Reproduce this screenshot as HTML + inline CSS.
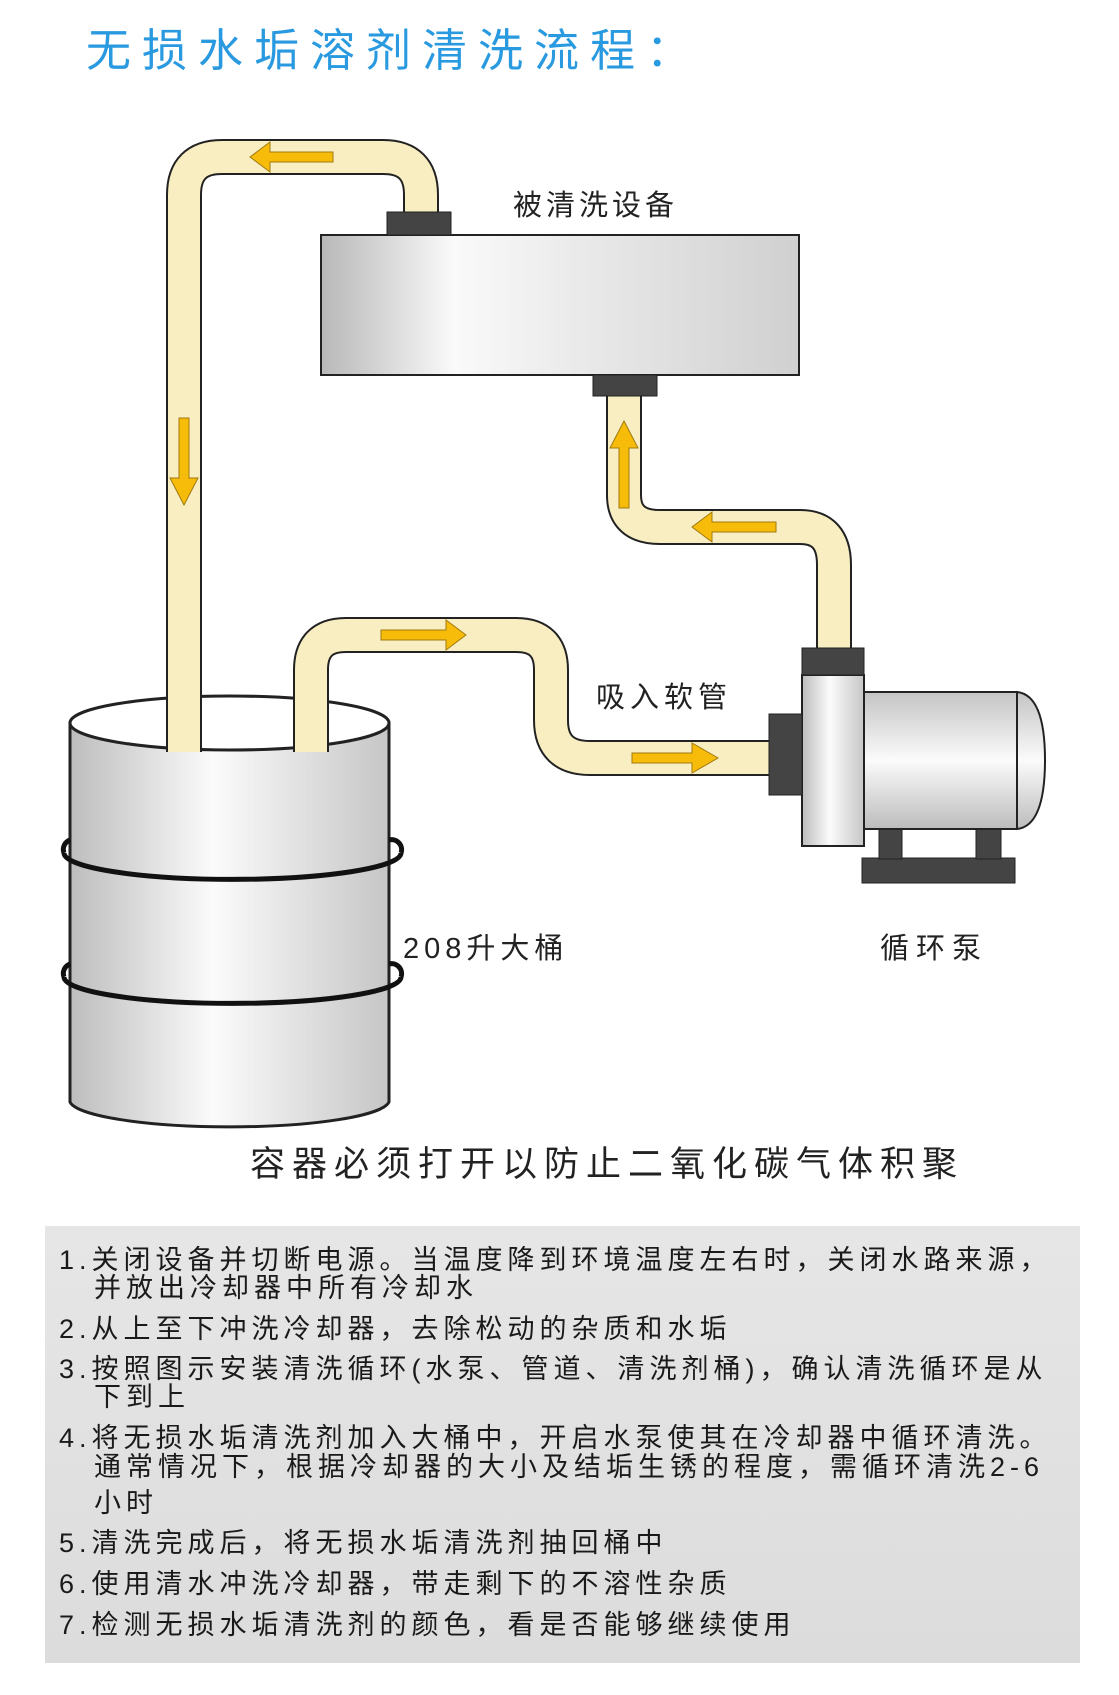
<!DOCTYPE html>
<html><head><meta charset="utf-8"><style>
html,body{margin:0;padding:0;background:#fff;}
body{width:1119px;height:1695px;position:relative;overflow:hidden;font-family:"Liberation Sans","Noto Sans CJK SC",sans-serif;}
.t{position:absolute;white-space:nowrap;color:#222;}
#box{position:absolute;left:45px;top:1226px;width:1035px;height:437px;background:linear-gradient(#e6e6e6,#dcdcdc);}
.l{position:absolute;left:59px;font-size:27px;letter-spacing:5px;color:#1a1a1a;white-space:nowrap;line-height:30px;}
.i{left:94px;}
</style></head><body>
<svg width="1119" height="1695" style="position:absolute;left:0;top:0">
<defs>
<linearGradient id="gb" x1="0" x2="1" y1="0" y2="0">
<stop offset="0" stop-color="#b8b8b8"/><stop offset="0.28" stop-color="#fafafa"/><stop offset="0.5" stop-color="#ececec"/><stop offset="1" stop-color="#d0d0d0"/></linearGradient>
<linearGradient id="gd" x1="0" x2="1" y1="0" y2="0">
<stop offset="0" stop-color="#bdbdbd"/><stop offset="0.45" stop-color="#fbfbfb"/><stop offset="1" stop-color="#c6c6c6"/></linearGradient>
<linearGradient id="gv" x1="0" x2="0" y1="0" y2="1">
<stop offset="0" stop-color="#c4c4c4"/><stop offset="0.5" stop-color="#fbfbfb"/><stop offset="1" stop-color="#bcbcbc"/></linearGradient>
</defs>
<path d="M70 723 L70 1102 A160 27 0 0 0 389 1102 L389 723 Z" fill="url(#gd)" stroke="#222" stroke-width="3"/>
<ellipse cx="229.5" cy="723" rx="159.5" ry="27" fill="#fff" stroke="#222" stroke-width="3"/>
<path d="M64 853 A166 26 0 0 0 401 853" fill="none" stroke="#111" stroke-width="5"/>
<path d="M70 840 A10 10 0 0 0 64 853 M389 840 A10 10 0 0 1 401 853" fill="none" stroke="#111" stroke-width="5"/>
<path d="M64 977 A166 26 0 0 0 401 977" fill="none" stroke="#111" stroke-width="5"/>
<path d="M70 964 A10 10 0 0 0 64 977 M389 964 A10 10 0 0 1 401 977" fill="none" stroke="#111" stroke-width="5"/>
<g fill="none" stroke-linejoin="round">
<path d="M184 752 L184 195 Q184 157 222 157 L383 157 Q421 157 421 195 L421 214" stroke="#222" stroke-width="36"/>
<path d="M624 396 L624 495 Q624 527 660 527 L800 527 Q834 527 834 565 L834 650" stroke="#222" stroke-width="36"/>
<path d="M311 752 L311 670 Q311 635 346 635 L516 635 Q551 635 551 670 L551 720 Q551 758 590 758 L772 758" stroke="#222" stroke-width="36"/>
<path d="M184 752 L184 195 Q184 157 222 157 L383 157 Q421 157 421 195 L421 214" stroke="#f8eec2" stroke-width="32"/>
<path d="M624 396 L624 495 Q624 527 660 527 L800 527 Q834 527 834 565 L834 650" stroke="#f8eec2" stroke-width="32"/>
<path d="M311 752 L311 670 Q311 635 346 635 L516 635 Q551 635 551 670 L551 720 Q551 758 590 758 L772 758" stroke="#f8eec2" stroke-width="32"/>
</g>
<rect x="321" y="235" width="478" height="140" fill="url(#gb)" stroke="#222" stroke-width="2"/>
<rect x="387" y="212" width="64" height="23" fill="#444" stroke="#222"/>
<rect x="593" y="375" width="64" height="21" fill="#444" stroke="#222"/>
<rect x="862" y="858" width="153" height="25" fill="#444" stroke="#222"/>
<rect x="879" y="829" width="23" height="30" fill="#444" stroke="#222"/>
<rect x="976" y="829" width="25" height="30" fill="#444" stroke="#222"/>
<path d="M1017 692 Q1045 695 1045 760 Q1045 826 1017 829 Z" fill="url(#gv)" stroke="#222" stroke-width="2"/>
<rect x="864" y="692" width="153" height="137" fill="url(#gv)" stroke="#222" stroke-width="2"/>
<rect x="802" y="675" width="62" height="171" fill="url(#gd)" stroke="#222" stroke-width="2"/>
<rect x="802" y="648" width="62" height="27" fill="#444" stroke="#222"/>
<rect x="769" y="714" width="33" height="81" fill="#444" stroke="#222"/>
<g fill="#f7bb0a" stroke="#a07a10" stroke-width="1">
<path d="M333 152 L270 152 L270 142 L250 157 L270 172 L270 162 L333 162 Z"/>
<path d="M179 418 L179 478 L170 478 L184 505 L198 478 L189 478 L189 418 Z"/>
<path d="M619 508 L619 448 L610 448 L624 421 L638 448 L629 448 L629 508 Z"/>
<path d="M776 522 L712 522 L712 512 L692 527 L712 542 L712 532 L776 532 Z"/>
<path d="M381 630 L446 630 L446 620 L466 635 L446 650 L446 640 L381 640 Z"/>
<path d="M632 753 L692 753 L692 743 L718 758 L692 773 L692 763 L632 763 Z"/>
</g>
</svg>
<div class="t" style="left:86px;top:14px;font-size:45px;letter-spacing:11px;color:#2a9ae0;">无损水垢溶剂清洗流程：</div>
<div class="t" style="left:513px;top:182px;font-size:29px;letter-spacing:4px;">被清洗设备</div>
<div class="t" style="left:596px;top:674px;font-size:29px;letter-spacing:5px;">吸入软管</div>
<div class="t" style="left:403px;top:925px;font-size:29px;letter-spacing:5px;">208升大桶</div>
<div class="t" style="left:880px;top:925px;font-size:29px;letter-spacing:7px;">循环泵</div>
<div class="t" style="left:250px;top:1136px;font-size:35px;letter-spacing:7px;">容器必须打开以防止二氧化碳气体积聚</div>
<div id="box"></div>
<div class="l" style="top:1245px">1.关闭设备并切断电源。当温度降到环境温度左右时，关闭水路来源，</div>
<div class="l i" style="top:1273px">并放出冷却器中所有冷却水</div>
<div class="l" style="top:1314px">2.从上至下冲洗冷却器，去除松动的杂质和水垢</div>
<div class="l" style="top:1354px">3.按照图示安装清洗循环(水泵、管道、清洗剂桶)，确认清洗循环是从</div>
<div class="l i" style="top:1382px">下到上</div>
<div class="l" style="top:1423px">4.将无损水垢清洗剂加入大桶中，开启水泵使其在冷却器中循环清洗。</div>
<div class="l i" style="top:1452px">通常情况下，根据冷却器的大小及结垢生锈的程度，需循环清洗2-6</div>
<div class="l i" style="top:1488px">小时</div>
<div class="l" style="top:1528px">5.清洗完成后，将无损水垢清洗剂抽回桶中</div>
<div class="l" style="top:1569px">6.使用清水冲洗冷却器，带走剩下的不溶性杂质</div>
<div class="l" style="top:1610px">7.检测无损水垢清洗剂的颜色，看是否能够继续使用</div>
</body></html>
